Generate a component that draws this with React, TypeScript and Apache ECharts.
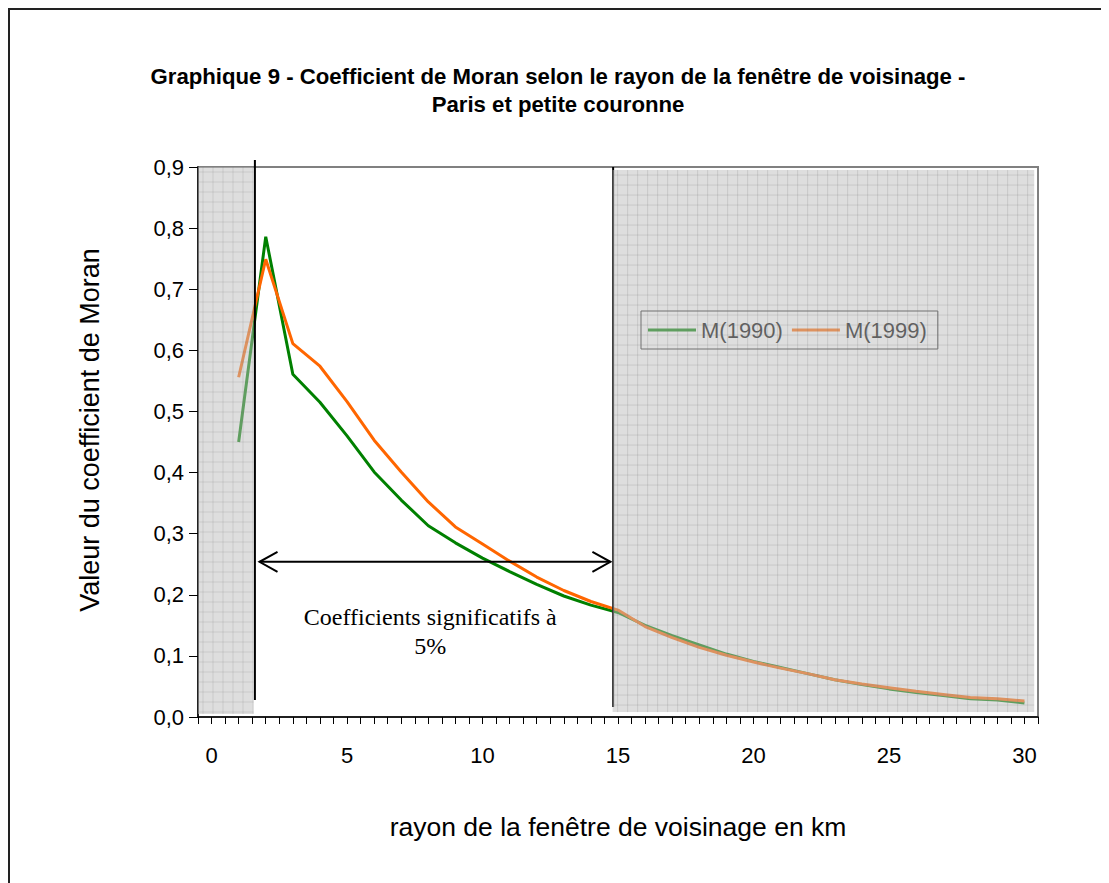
import React, { useEffect, useRef } from "react";
import * as echarts from "echarts";

// Rayon de la fenêtre de voisinage (km)
const radiusKm = [1, 2, 3, 4, 5, 6, 7, 8, 9, 10, 11, 12, 13, 14, 15, 16, 17, 18, 19, 20, 21, 22, 23, 24, 25, 26, 27, 28, 29, 30];
const m1990 = [0.45, 0.786, 0.561, 0.515, 0.46, 0.401, 0.355, 0.313, 0.285, 0.26, 0.238, 0.217, 0.198, 0.183, 0.171, 0.15, 0.133, 0.118, 0.103, 0.091, 0.081, 0.071, 0.061, 0.053, 0.046, 0.04, 0.035, 0.03, 0.028, 0.023];
const m1999 = [0.556, 0.749, 0.611, 0.574, 0.516, 0.453, 0.401, 0.352, 0.311, 0.283, 0.255, 0.229, 0.207, 0.189, 0.175, 0.148, 0.13, 0.114, 0.101, 0.09, 0.08, 0.071, 0.061, 0.054, 0.048, 0.042, 0.037, 0.032, 0.03, 0.026];
const seriesNames = ["M(1990)", "M(1999)"];

// Zones non significatives (ombrées)
const shadeFrom = [-0.5, 14.8];
const shadeTo = [1.55, 30.36];
const shadeBottom = [0.005, 0.008];
const shadeTop = [0.9, 0.895];

// Annotations
const sigStart = 1.6;
const sigEnd = 14.82;
const arrowY = 0.254;
const arrowFrom = 1.77;
const arrowTo = 14.72;
const noteX = 8.07;
const noteY = 0.14;
const noteText = "Coefficients significatifs à\n5%";

const SANS = "'Liberation Sans', Arial, sans-serif";
const SERIF = "'Liberation Serif', 'Times New Roman', serif";

export default function App() {
  const ref = useRef<HTMLDivElement>(null);
  useEffect(() => {
    if (!ref.current) return;
    const chart = echarts.init(ref.current, null, { renderer: "svg" });

    const shadeData = shadeFrom.map((x0, i) => [x0, shadeBottom[i], shadeTo[i], shadeTop[i]]);

    const option: any = {
      animation: false,
      backgroundColor: "#ffffff",
      title: {
        text: "Graphique 9 - Coefficient de Moran selon le rayon de la fenêtre de voisinage -\nParis et petite couronne",
        left: 545,
        top: 49,
        textAlign: "center",
        textStyle: { fontFamily: SANS, fontWeight: "bold", fontSize: 22.2, color: "#000", lineHeight: 28 },
      },
      graphic: [
        {
          type: "rect",
          shape: { x: 1, y: 1, width: 2000, height: 2000 },
          style: { fill: "none", stroke: "#222", lineWidth: 2 },
          silent: true,
        },
      ],
      legend: {
        data: seriesNames,
        left: 633,
        top: 303,
        icon: "rect",
        itemWidth: 48,
        itemHeight: 3,
        itemGap: 9,
        padding: [8, 11, 8, 7],
        borderColor: "#222",
        borderWidth: 1,
        textStyle: { fontFamily: SANS, fontSize: 22, color: "#000" },
      },
      grid: {
        left: 190,
        top: 159,
        right: 71,
        bottom: 166,
        show: true,
        borderColor: "#808080",
        borderWidth: 2,
        backgroundColor: "transparent",
      },
      xAxis: {
        type: "value",
        min: -0.5,
        max: 30.5,
        interval: 0.5,
        name: "rayon de la fenêtre de voisinage en km",
        nameLocation: "middle",
        nameGap: 96,
        nameTextStyle: { fontFamily: SANS, fontSize: 26.5, color: "#000" },
        axisLine: { onZero: false, lineStyle: { color: "#000", width: 1.5 } },
        axisTick: { show: true, length: 7, lineStyle: { color: "#000", width: 1 } },
        axisLabel: {
          margin: 27,
          fontFamily: SANS,
          fontSize: 22,
          color: "#000",
          showMinLabel: true,
          showMaxLabel: true,
          formatter: (v: number) => (Math.abs(v % 5) < 1e-9 ? String(v) : ""),
        },
        splitLine: { show: false },
      },
      yAxis: {
        type: "value",
        min: 0,
        max: 0.9,
        interval: 0.1,
        name: "Valeur du coefficient de Moran",
        nameLocation: "middle",
        nameRotate: 90,
        nameGap: 95,
        nameTextStyle: { fontFamily: SANS, fontSize: 27, color: "#000", padding: [0, 0, 0, 24] },
        axisLine: { show: true, onZero: false, lineStyle: { color: "#000", width: 1.5 } },
        axisTick: { show: true, length: 9, lineStyle: { color: "#000", width: 1 } },
        axisLabel: {
          margin: 14,
          fontFamily: SANS,
          fontSize: 22,
          color: "#000",
          formatter: (v: number) => v.toFixed(1).replace(".", ","),
        },
        splitLine: { show: false },
      },
      series: [
        {
          name: seriesNames[0],
          type: "line",
          data: radiusKm.map((x, i) => [x, m1990[i]]),
          symbol: "none",
          color: "#008000",
          lineStyle: { color: "#008000", width: 3 },
          z: 2,
        },
        {
          name: seriesNames[1],
          type: "line",
          data: radiusKm.map((x, i) => [x, m1999[i]]),
          symbol: "none",
          color: "#ff6600",
          lineStyle: { color: "#ff6600", width: 3 },
          z: 2,
        },
        {
          name: "annotations",
          type: "custom",
          z: 3,
          silent: true,
          data: [[sigStart, arrowY]],
          renderItem: (_params: any, api: any) => {
            const a = api.coord([sigStart, 0.9]);
            const b = api.coord([sigStart, 0.0]);
            const c = api.coord([sigEnd, 0.9]);
            const d = api.coord([sigEnd, 0.0]);
            const l = api.coord([arrowFrom, arrowY]);
            const r = api.coord([arrowTo, arrowY]);
            const t = api.coord([noteX, noteY]);
            const stroke = { stroke: "#000", lineWidth: 2, fill: "none" };
            return {
              type: "group",
              children: [
                { type: "line", shape: { x1: a[0], y1: a[1] - 7, x2: b[0], y2: b[1] - 17 }, style: stroke },
                { type: "line", shape: { x1: c[0], y1: c[1], x2: d[0], y2: d[1] - 10 }, style: stroke },
                { type: "line", shape: { x1: l[0], y1: l[1], x2: r[0], y2: r[1] }, style: stroke },
                { type: "polyline", shape: { points: [[l[0] + 18, l[1] - 10], [l[0], l[1]], [l[0] + 18, l[1] + 10]] }, style: stroke },
                { type: "polyline", shape: { points: [[r[0] - 18, r[1] - 10], [r[0], r[1]], [r[0] - 18, r[1] + 10]] }, style: stroke },
                {
                  type: "text",
                  style: {
                    text: noteText,
                    x: t[0],
                    y: t[1],
                    align: "center",
                    verticalAlign: "middle",
                    font: `24px ${SERIF}`,
                    lineHeight: 29,
                    fill: "#000",
                  },
                },
              ],
            };
          },
        },
        {
          name: "shade",
          type: "custom",
          z: 10,
          silent: true,
          data: shadeData,
          encode: { x: [0, 2], y: [1, 3] },
          renderItem: (_params: any, api: any) => {
            const p0 = api.coord([api.value(0), api.value(3)]);
            const p1 = api.coord([api.value(2), api.value(1)]);
            const x0 = p0[0], y0 = p0[1], x1 = p1[0], y1 = p1[1];
            const children: any[] = [
              { type: "rect", shape: { x: x0, y: y0, width: x1 - x0, height: y1 - y0 }, style: { fill: "rgba(190,190,190,0.5)" } },
            ];
            const gridStroke = { stroke: "rgba(120,120,120,0.2)", lineWidth: 1 };
            for (let x = x0 + 5; x < x1; x += 10) {
              children.push({ type: "line", shape: { x1: x, y1: y0, x2: x, y2: y1 }, style: gridStroke });
            }
            for (let y = y0 + 5; y < y1; y += 10) {
              children.push({ type: "line", shape: { x1: x0, y1: y, x2: x1, y2: y }, style: gridStroke });
            }
            return { type: "group", children };
          },
        },
      ],
    };
    chart.setOption(option);
    return () => chart.dispose();
  }, []);
  return <div ref={ref} style={{ width: 1101, height: 875 }} />;
}
